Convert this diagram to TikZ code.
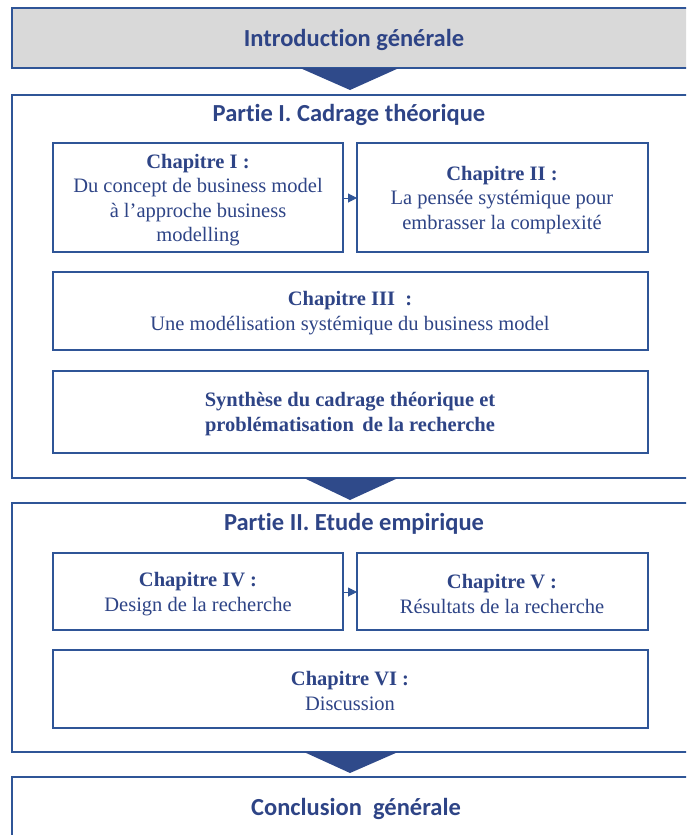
\documentclass[tikz,border=0pt]{standalone}
\usepackage{fontspec}
\setmainfont{Liberation Serif}
\newfontfamily\headfont[Ligatures=NoCommon]{Carlito}
\usetikzlibrary{arrows.meta}
\definecolor{bord}{HTML}{2F5597}
\definecolor{txt}{HTML}{2E4486}
\definecolor{tri}{HTML}{2F4A8A}
\definecolor{introfill}{HTML}{D9D9D9}
\begin{document}
\begin{tikzpicture}[x=1pt,y=-1pt,
  frame/.style={draw=bord,line width=2.6pt},
  chap/.style={draw=bord,line width=1.8pt},
  head/.style={font=\headfont\bfseries\fontsize{24.5}{28}\selectfont,text=txt},
  ctext/.style={font=\fontsize{20.5}{24.5}\selectfont,text=txt,align=center},
  tri/.style={fill=tri,draw=none},
  link/.style={draw=bord,line width=1pt,-{Triangle[length=9pt,width=9pt]}}]
\useasboundingbox (0,0) rectangle (686,835);
\clip (0,0) rectangle (686,835);
% intro
\draw[frame,fill=introfill] (12,8) rectangle (690,68);
\node[head] (intro) at (354,40) {Introduction générale};
\fill[tri] (300,68) -- (399,68) -- (350,90) -- cycle;
% part I
\draw[frame] (12,95) rectangle (690,478);
\node[head] (p1) at (349,115) {Partie I. Cadrage théorique};
\draw[chap] (53,143) rectangle (343,252);
\coordinate (c1e) at (343,198);
\node[ctext] (c1) at (198,200) {\textbf{Chapitre I :}\\Du concept de business model\\à l’approche business\\modelling};
\draw[chap] (357,143) rectangle (648,252);
\coordinate (c2w) at (357,198);
\node[ctext] (c2) at (502,200) {\textbf{Chapitre II :}\\La pensée systémique pour\\embrasser la complexité};
\draw[link] (c1e) -- (c2w);
\draw[chap] (53,272) rectangle (648,350);
\node[ctext] (c3) at (350,313) {\textbf{Chapitre III \ :}\\Une modélisation systémique du business model};
\draw[chap] (53,371) rectangle (648,453);
\node[ctext,font=\bfseries\fontsize{20.5}{24.5}\selectfont] (syn) at (350,414) {Synthèse du cadrage théorique et\\problématisation \,de la recherche};
\fill[tri] (304,478) -- (398,478) -- (350,500) -- cycle;
% part II
\draw[frame] (12,503) rectangle (690,752);
\node[head] (p2) at (354,524) {Partie II. Etude empirique};
\draw[chap] (53,553) rectangle (343,630);
\coordinate (c4e) at (343,592);
\node[ctext] (c4) at (198,594) {\textbf{Chapitre IV :}\\Design de la recherche};
\draw[chap] (357,553) rectangle (648,630);
\coordinate (c5w) at (357,592);
\node[ctext] (c5) at (502,594) {\textbf{Chapitre V :}\\Résultats de la recherche};
\draw[link] (c4e) -- (c5w);
\draw[chap] (53,650) rectangle (648,728);
\node[ctext] (c6) at (350,691) {\textbf{Chapitre VI :}\\Discussion};
\fill[tri] (304,752) -- (398,752) -- (350,773) -- cycle;
% conclusion
\draw[frame] (12,777) rectangle (690,850);
\node[head] (concl) at (356,809) {Conclusion \ générale};
\end{tikzpicture}
\end{document}
